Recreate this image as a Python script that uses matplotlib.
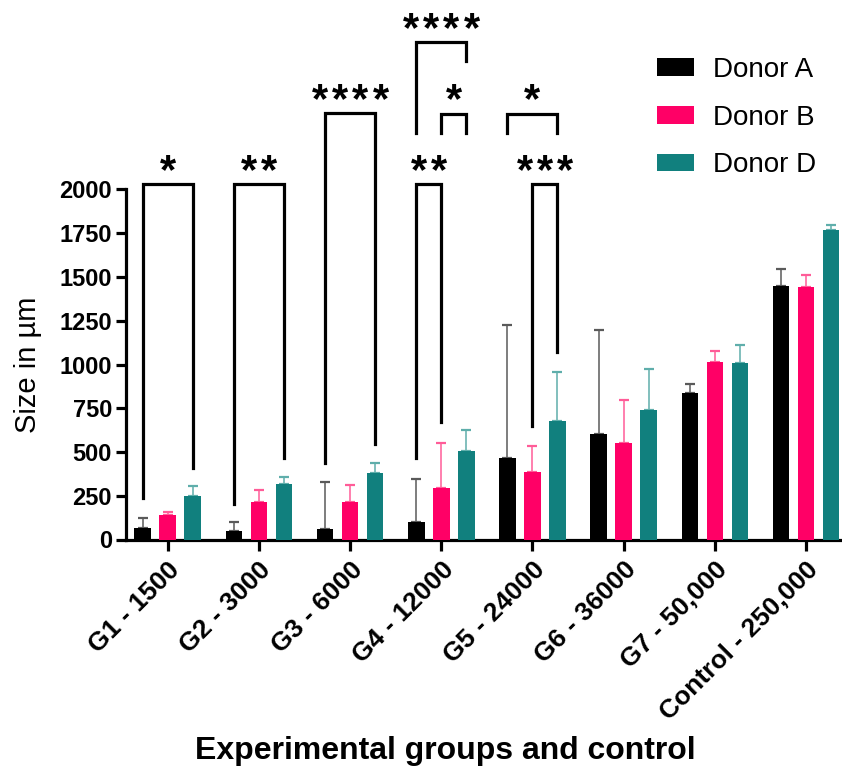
import matplotlib
matplotlib.use("Agg")
import matplotlib.pyplot as plt
import matplotlib.transforms as mtransforms
import numpy as np

plt.rcParams["font.family"] = ["Liberation Sans", "DejaVu Sans"]

groups = ["G1 - 1500", "G2 - 3000", "G3 - 6000", "G4 - 12000",
          "G5 - 24000", "G6 - 36000", "G7 - 50,000", "Control - 250,000"]
donors = ["Donor A", "Donor B", "Donor D"]

donor_a = [67, 50, 61, 102, 466, 601, 837, 1450]
donor_a_err = [56, 48, 266, 244, 760, 594, 53, 96]
donor_b = [138, 213, 213, 296, 388, 550, 1016, 1441]
donor_b_err = [17, 68, 98, 257, 148, 249, 61, 69]
donor_d = [249, 317, 378, 504, 675, 740, 1007, 1770]
donor_d_err = [55, 38, 62, 120, 280, 236, 106, 27]

# (group, bar i, bar j, label, bracket level, left leg end, right leg end)
comparisons = [
    (0, 0, 2, "*", 2030, 236, 410),
    (1, 0, 2, "**", 2030, 205, 466),
    (2, 0, 2, "****", 2436, 435, 544),
    (3, 0, 1, "**", 2030, 464, 670),
    (3, 1, 2, "*", 2434, 2324, 2324),
    (3, 0, 2, "****", 2842, 2324, 2732),
    (4, 0, 2, "*", 2434, 2324, 2324),
    (4, 1, 2, "***", 2030, 649, 1070),
]

bar_colors = ["#000000", "#FF0066", "#11807E"]
err_colors = ["#5A5A5A", "#FF5C98", "#5FAEAB"]

W, H = 842, 769
fig = plt.figure(figsize=(W / 100, H / 100), dpi=100)
ax = fig.add_axes([126 / W, 1 - 539.5 / H, 716 / W, 350 / H])

x = np.arange(len(groups))
offset = 0.274
width = 0.183
series = [(donor_a, donor_a_err), (donor_b, donor_b_err), (donor_d, donor_d_err)]
for k, (vals, errs) in enumerate(series):
    pos = x + (k - 1) * offset
    ax.bar(pos, vals, width, color=bar_colors[k], label=donors[k], zorder=3)
    ax.errorbar(pos, vals, yerr=[np.zeros(len(errs)), errs], fmt="none",
                ecolor=err_colors[k], elinewidth=1.1, capsize=3.6,
                capthick=1.6, zorder=2)

ax.set_xlim(-0.457, -0.457 + 716 / 91.2)
ax.set_ylim(0, 2000)
ax.set_yticks(np.arange(0, 2001, 250))
ax.set_xticks(x)
ax.set_xticklabels(groups, rotation=45, ha="right", rotation_mode="anchor",
                   fontsize=19, fontweight="bold")
for lab in ax.get_yticklabels():
    lab.set_fontsize(17)
    lab.set_fontweight("bold")

for side in ["top", "right"]:
    ax.spines[side].set_visible(False)
for side in ["left", "bottom"]:
    ax.spines[side].set_linewidth(2.3)
ax.tick_params(axis="y", length=7, width=2.3, pad=3)
ax.tick_params(axis="x", length=8, width=2.3, pad=5)

ax.set_ylabel("Size in µm", fontsize=21)
ax.yaxis.set_label_coords(-0.137, 0.5)
ax.yaxis.label.set_va("center")
ax.set_xlabel("Experimental groups and control", fontsize=23, fontweight="bold")
ax.xaxis.set_label_coords(0.4455, -0.605)
ax.xaxis.label.set_va("center")

# significance brackets with stars
star_tr = mtransforms.offset_copy(ax.transData, fig=fig, y=-18, units="dots")
for g, i, j, label, top, yl, yr in comparisons:
    xl = g + (i - 1) * offset
    xr = g + (j - 1) * offset
    ax.plot([xl, xl, xr, xr], [yl, top, top, yr], color="black", lw=2.3,
            solid_joinstyle="miter", clip_on=False, zorder=4)
    mid = (xl + xr) / 2
    n = len(label)
    for s in range(n):
        sx = mid + (s - (n - 1) / 2) * 0.2226
        ax.text(sx, top + 110, "*", ha="center", va="baseline", fontsize=30,
                fontweight="bold", transform=star_tr, clip_on=False)

ax.legend(loc="upper left", bbox_to_anchor=(657 / W, 1 - 57 / H),
          bbox_transform=fig.transFigure, frameon=False, fontsize=20,
          handlelength=1.33, handleheight=0.6, handletextpad=0.7,
          labelspacing=0.78, borderpad=0, borderaxespad=0)

fig.savefig("out.png", dpi=100)
